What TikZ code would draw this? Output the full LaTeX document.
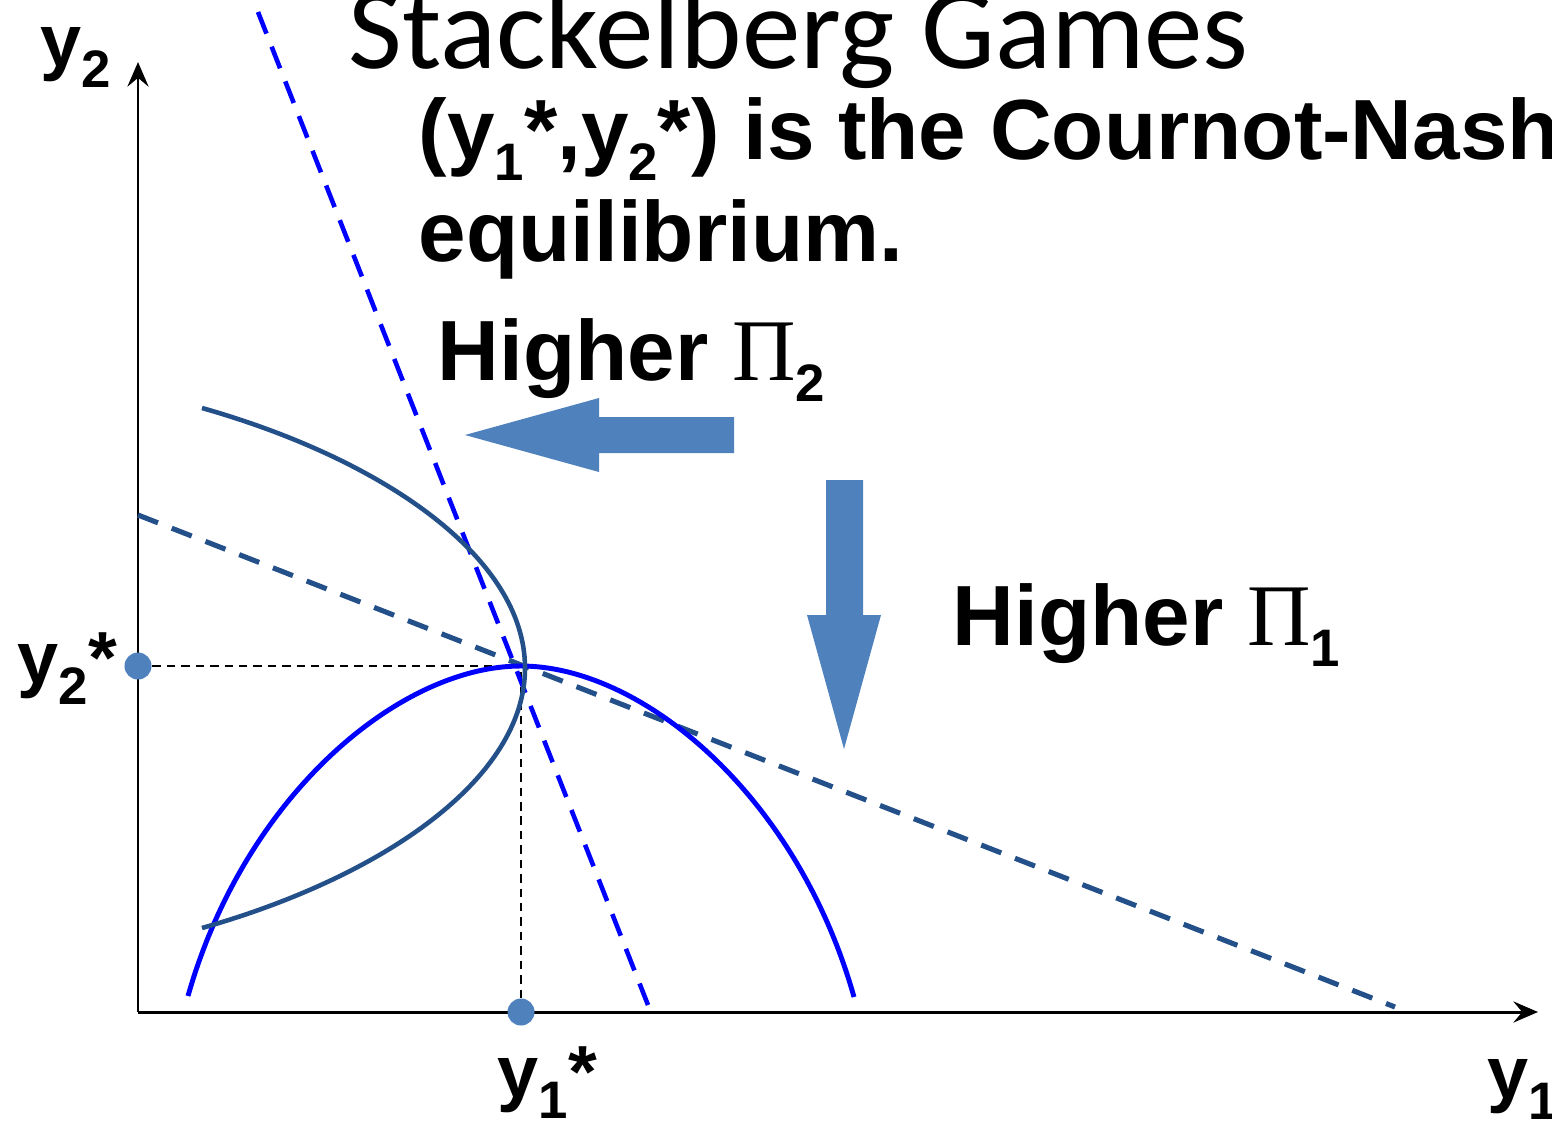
\documentclass[tikz,border=0pt]{standalone}
\usepackage{fontspec}
\setmainfont{Liberation Sans}
\newfontfamily\calibri{Carlito}
\newfontfamily\timesgr{Liberation Serif}
\usetikzlibrary{arrows.meta}
\definecolor{pale}{HTML}{4F81BD}
\definecolor{darkbl}{HTML}{24508A}
\newcommand{\lowsub}[1]{\raisebox{-6pt}{\fontsize{15}{15}\selectfont #1}}
\newcommand{\bigpi}{{\timesgr\mdseries\fontsize{25}{25}\selectfont Π}}
\begin{document}
\begin{tikzpicture}[>={Stealth[length=7pt,width=6pt,inset=2.5pt]},x=0.01cm,y=-0.01cm,
  big/.style={font=\fontsize{24.3}{24.3}\selectfont\bfseries,inner sep=0pt,anchor=base west},
  lab/.style={font=\fontsize{21}{21}\selectfont\bfseries,inner sep=0pt,anchor=base west}]
\useasboundingbox (0,0) rectangle (1552,1124);
\coordinate (O) at (138,1012);
\coordinate (E) at (521,666);
\coordinate (Ey) at (O|-E);
\coordinate (Ex) at (E|-O);
\draw[line width=0.85pt,->](O)--(1538,1012);
\draw[line width=0.85pt,->](O)--(138,62);
\draw[line width=0.6pt,dash pattern=on 2.4pt off 1.7pt](Ey)--(E)--(Ex);
\draw[blue,line width=1.3pt,dash pattern=on 6.6pt off 4pt](258,12)--(648,1005);
\draw[darkbl,line width=1.45pt,dash pattern=on 6.1pt off 4.2pt](138,515)--(1395,1007);
\draw[blue,line width=1.4pt](188,996) .. controls (245,795) and (400,666) .. (E)
  .. controls (642,666) and (797,795) .. (854,997);
\draw[darkbl,line width=1.3pt](202,408) .. controls (385,460) and (525,558) .. (525,668)
  .. controls (525,778) and (385,876) .. (202,928);
\fill[pale](Ey)circle[radius=0.135cm] (Ex)circle[radius=0.135cm];
\fill[pale](465,435)--(599,398)--(599,417)--(734,417)--(734,453)--(599,453)--(599,472)--cycle;
\fill[pale](844,749)--(807,615)--(826,615)--(826,480)--(863,480)--(863,615)--(881,615)--cycle;
\node[font=\calibri\fontsize{33.3}{33.3}\selectfont,inner sep=0pt,anchor=base west] (title) at (348,68) {Stackelberg Games};
\node[big] (claim) at (418,159) {(y\lowsub{1}*,y\lowsub{2}*) is the Cournot-Nash};
\node[big] (claim2) at (418,261) {equilibrium.};
\node[big] (hi2) at (437,380) {Higher \bigpi\lowsub{2}};
\node[big] (hi1) at (952,645) {Higher \bigpi\lowsub{1}};
\node[lab] (ytop) at (40,66) {y\lowsub{2}};
\node[lab] (ystar2) at (17,683) {y\lowsub{2}*};
\node[lab] (ystar1) at (497,1097) {y\lowsub{1}*};
\node[lab] (yright) at (1487,1098) {y\lowsub{1}};
\end{tikzpicture}
\end{document}
